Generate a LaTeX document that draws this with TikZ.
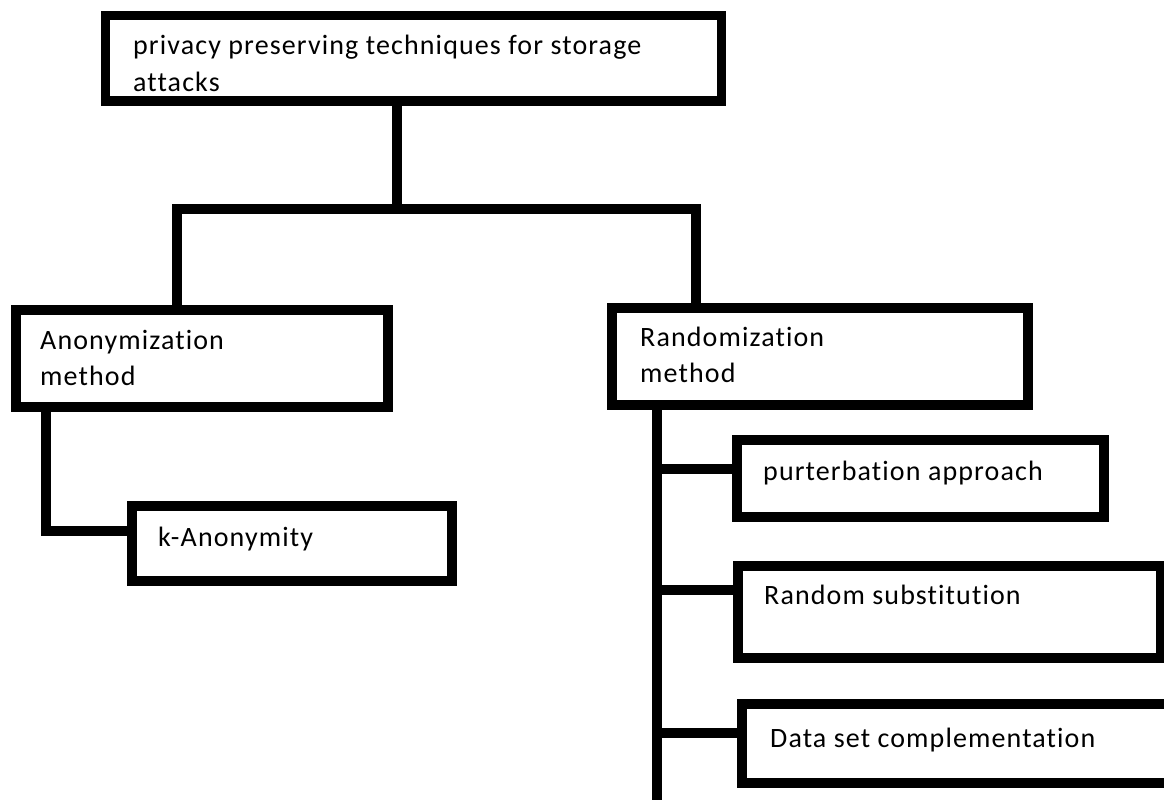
\documentclass[tikz,border=0pt]{standalone}
\usepackage{fontspec}
\setmainfont{Carlito}[LetterSpace=4,Ligatures={NoCommon,NoRare,NoContextual}]
\begin{document}
\begin{tikzpicture}[x=1pt,y=-1pt,
  box/.style={draw=black,line width=9.5pt,line join=miter,inner sep=0pt,rectangle},
  lbl/.style={anchor=base west,inner sep=0pt,font=\fontsize{28}{36}\selectfont,text=black},
  conn/.style={draw=black,line width=9.5pt,line join=miter}]
\useasboundingbox (0,0) rectangle (1164,800);
% boxes (centre-line corners)
\node[box,minimum width=616pt,minimum height=85.5pt] (top) at (413.25,58.25) {};
\node[box,minimum width=372pt,minimum height=97pt] (anon) at (202,358.5) {};
\node[box,minimum width=320pt,minimum height=75pt] (kanon) at (292,543.5) {};
\node[box,minimum width=416pt,minimum height=97pt] (rand) at (820,356.5) {};
\node[box,minimum width=367pt,minimum height=77pt] (purt) at (920.5,478.5) {};
\node[box,minimum width=423pt,minimum height=92pt] (rsub) at (949.5,612) {};
\node[box,minimum width=427pt,minimum height=79pt] (dset) at (955.5,743.5) {};
% labels
\node[lbl] (t1) at (133,55) {privacy preserving techniques for storage};
\node[lbl] (t2) at (133,91) {attacks};
\node[lbl] (a1) at (40,349) {Anonymization};
\node[lbl] (a2) at (40,385) {method};
\node[lbl] (k1) at (158,546) {k-Anonymity};
\node[lbl] (r1) at (640,346) {Randomization};
\node[lbl] (r2) at (640,382) {method};
\node[lbl] (p1) at (763,480) {purterbation approach};
\node[lbl] (s1) at (764,604) {Random substitution};
\node[lbl] (d1) at (770,747) {Data set complementation};
% connectors
\coordinate (j) at (397,209);
\coordinate (bl) at (177,209);
\coordinate (br) at (696,209);
\draw[conn] (top.south -| j) -- (j);
\draw[conn] (anon.north -| bl) -- (bl) -- (br) -- (rand.north -| br);
\coordinate (ka) at (46,531);
\draw[conn] (anon.south -| ka) -- (ka) -- (ka -| kanon.west);
\coordinate (sp) at (657,810);
\draw[conn] (rand.south -| sp) -- (sp);
\coordinate (b1) at (657,469);
\coordinate (b2) at (657,590);
\coordinate (b3) at (657,733);
\draw[conn] (b1) -- (b1 -| purt.west);
\draw[conn] (b2) -- (b2 -| rsub.west);
\draw[conn] (b3) -- (b3 -| dset.west);
\end{tikzpicture}
\end{document}
